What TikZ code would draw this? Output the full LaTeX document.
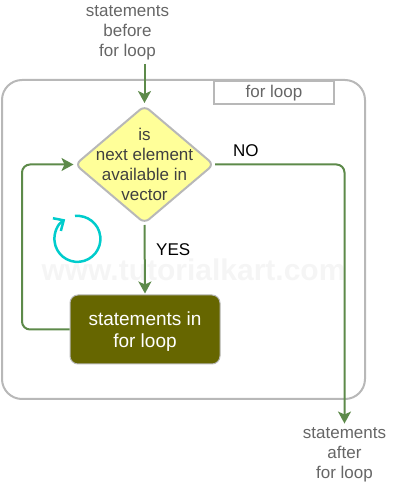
\documentclass[tikz,border=0pt]{standalone}
\usepackage{fontspec}
\setmainfont{Liberation Sans}
\usepackage{tikz}
\usetikzlibrary{arrows.meta,shapes.geometric}

\definecolor{flowgreen}{HTML}{5D8A4A}
\definecolor{framegray}{HTML}{B8B8B8}
\definecolor{bodyolive}{HTML}{666600}
\definecolor{decideyellow}{HTML}{FFFF99}
\definecolor{loopteal}{HTML}{00CCCC}

\tikzset{
    flow/.style={draw=flowgreen,line width=2pt,rounded corners=8pt,-{Stealth[length=12pt,width=13pt,inset=3pt]}},
    plain/.style={align=center,inner sep=0pt,text=black!60,font=\fontsize{17}{20}\selectfont},
    answer/.style={inner sep=0pt,anchor=west,text=black,font=\fontsize{17}{20}\selectfont}
}

\begin{document}
\begin{tikzpicture}[x=1pt,y=1pt]
    \useasboundingbox (0,0) rectangle (400,483);

    % draw watermark
    \node[inner sep=0pt,text=black!4,font=\fontsize{30}{30}\selectfont\bfseries] (mark) at (193.5,213) {www.tutorialkart.com};

    % draw frame
    \draw[framegray,line width=2pt,rounded corners=20pt] (2,84) rectangle (365,403);
    \node[draw=framegray,line width=2pt,minimum width=120pt,minimum height=23.5pt,inner sep=0pt,text height=13pt,text depth=2pt,text=black!60,font=\fontsize{17}{20}\selectfont] (tag) at (274,390.5) {for loop};

    % draw nodes
    \node[plain] (before) at (127.5,450) {statements\\before\\for loop};
    \node[plain] (after) at (344.5,28) {statements\\after\\for loop};
    \node[diamond,draw=framegray,fill=decideyellow,line width=2pt,rounded corners=6pt,inner sep=0pt,minimum width=139pt,minimum height=118pt,aspect=1.18,
        label={[align=center,text=black!75,font=\fontsize{17}{20}\selectfont]center:is\\next element\\available in\\vector}] (decide) at (144.5,318.5) {};
    \node[draw=framegray,fill=bodyolive,line width=1pt,rounded corners=8pt,minimum width=150pt,minimum height=69pt,inner sep=0pt,
        label={[align=center,text=white,font=\fontsize{19}{22}\selectfont,yshift=-2.5pt]center:statements in\\for loop}] (body) at (145,153.5) {};

    % draw labels
    \node[answer] (no) at (233,332) {NO};
    \node[answer] (yes) at (156,233) {YES};

    % draw free ends
    \coordinate (enter) at (144.5,419);
    \coordinate (back) at (22,318.5);

    % draw connectors
    \draw[flow,shorten >=1.5pt] (enter) -- (decide.north);
    \draw[flow,shorten <=0.5pt,shorten >=1pt] (decide.south) -- (body.north);
    \draw[flow,shorten >=0.5pt] (body.west) -| (back) -- (decide.west);
    \draw[flow,shorten >=4pt] (decide.east) -| (after.north);

    % draw loop sign
    \draw[loopteal,line width=2.5pt,-{Straight Barb[length=8pt,width=15pt]}] (75,267) arc[start angle=96,end angle=-238,radius=23pt];
\end{tikzpicture}
\end{document}
